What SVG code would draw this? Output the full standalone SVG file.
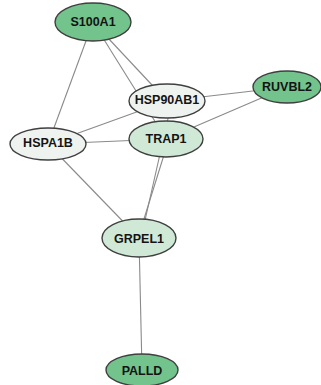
<svg xmlns="http://www.w3.org/2000/svg" width="321" height="385" viewBox="0 0 321 385">
  <style>
    .edge { stroke: #8a8a8a; stroke-width: 1.1; fill: none; }
    .node ellipse { stroke: #3f3f3f; stroke-width: 1.4; }
    .node text { font-family: "Liberation Sans", Arial, sans-serif; font-size: 12.5px; font-weight: bold; fill: #141414; text-anchor: middle; dominant-baseline: central; }
    .high { fill: #72c38c; }
    .mid { fill: #cfe9d6; }
    .low { fill: #eef3ef; }
  </style>
  <rect width="321" height="385" fill="#ffffff"/>
  <g id="edges">
    <line class="edge" x1="93" y1="22" x2="48" y2="144"/>
    <line class="edge" x1="93" y1="22" x2="167" y2="101"/>
    <line class="edge" x1="93" y1="22" x2="166" y2="139"/>
    <line class="edge" x1="167" y1="101" x2="287" y2="87"/>
    <line class="edge" x1="166" y1="139" x2="287" y2="87"/>
    <line class="edge" x1="48" y1="144" x2="167" y2="101"/>
    <line class="edge" x1="48" y1="144" x2="166" y2="139"/>
    <line class="edge" x1="48" y1="144" x2="139" y2="238"/>
    <line class="edge" x1="172" y1="101" x2="141" y2="238"/>
    <line class="edge" x1="169" y1="139" x2="138" y2="238"/>
    <line class="edge" x1="139" y1="238" x2="142" y2="370"/>
  </g>
  <g id="S100A1" class="node">
    <ellipse class="high" cx="93" cy="22" rx="38" ry="19"/>
    <text x="93" y="22">S100A1</text>
  </g>
  <g id="RUVBL2" class="node">
    <ellipse class="high" cx="287" cy="87" rx="34" ry="16"/>
    <text x="287" y="87">RUVBL2</text>
  </g>
  <g id="HSP90AB1" class="node">
    <ellipse class="low" cx="167" cy="101" rx="38" ry="17"/>
    <text x="167" y="100">HSP90AB1</text>
  </g>
  <g id="TRAP1" class="node">
    <ellipse class="mid" cx="166" cy="139" rx="37" ry="18"/>
    <text x="166" y="139">TRAP1</text>
  </g>
  <g id="HSPA1B" class="node">
    <ellipse class="low" cx="48" cy="144" rx="38" ry="16"/>
    <text x="48" y="143">HSPA1B</text>
  </g>
  <g id="GRPEL1" class="node">
    <ellipse class="mid" cx="139" cy="238" rx="37" ry="19"/>
    <text x="139" y="239">GRPEL1</text>
  </g>
  <g id="PALLD" class="node">
    <ellipse class="high" cx="142" cy="370" rx="36" ry="16"/>
    <text x="142" y="371">PALLD</text>
  </g>
</svg>
